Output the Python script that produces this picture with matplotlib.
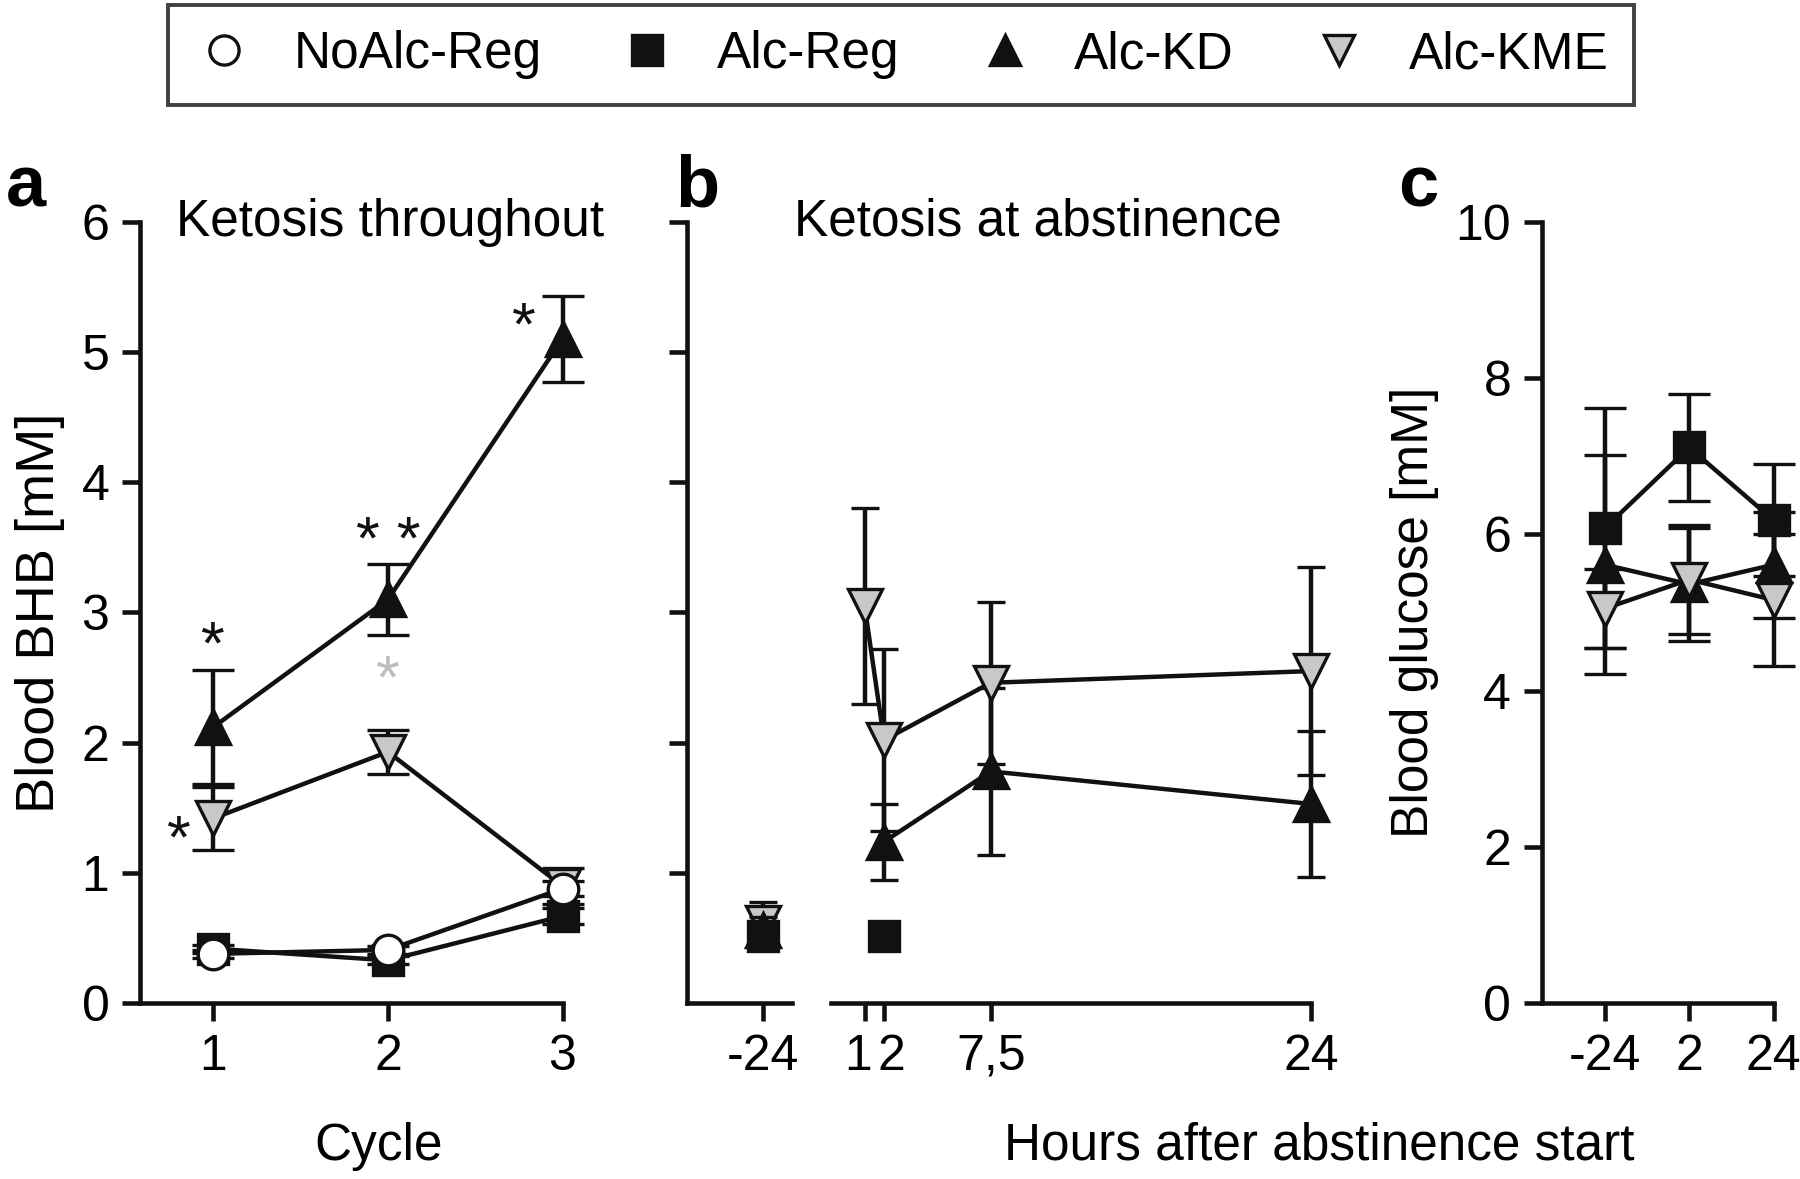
import matplotlib
matplotlib.use("Agg")
import matplotlib.pyplot as plt
import matplotlib.transforms as mtrans
from matplotlib.lines import Line2D

plt.rcParams['font.family'] = ['Liberation Sans', 'DejaVu Sans']
plt.rcParams['axes.unicode_minus'] = False

# ---- panel a: BHB per cycle ----
cycles = [1, 2, 3]
a_noalc = [0.38, 0.41, 0.88]
a_noalc_err = [0.03, 0.03, 0.06]
a_reg = [0.42, 0.33, 0.67]
a_reg_err = [0.03, 0.03, 0.06]
a_kd = [2.12, 3.10, 5.10]
a_kd_err = [0.44, 0.27, 0.33]
a_kme = [1.42, 1.93, 0.90]
a_kme_err = [0.24, 0.17, 0.14]

# ---- panel b: BHB around abstinence ----
b_pre = [-24]
b_reg_pre = [0.52]
b_kd_pre = [0.56]
b_kme_pre = [0.62]
b_pre_err = [0.16]
b_reg_x = [2]
b_reg = [0.52]
b_hours = [1, 2, 7.5, 24]
b_kd_x = [2, 7.5, 24]
b_kd = [1.24, 1.78, 1.53]
b_kd_err = [0.29, 0.64, 0.56]
b_kme = [3.05, 2.02, 2.46, 2.55]
b_kme_err = [0.75, 0.70, 0.62, 0.80]

# ---- panel c: glucose ----
c_labels = ['-24', '2', '24']
c_x = [0, 1, 2]
c_reg = [6.08, 7.11, 6.18]
c_reg_err = [1.54, 0.68, 0.72]
c_kd = [5.61, 5.36, 5.61]
c_kd_err = [1.40, 0.72, 0.68]
c_kme = [5.05, 5.42, 5.16]
c_kme_err = [0.50, 0.70, 0.84]

BLACK = '#111111'
GREY = '#c8c8c8'
LW = 3.2
MEW = 2.4
FS = 37
TFS = 36

styles = {
    'NoAlc-Reg': dict(marker='o', mfc='white', ms=22),
    'Alc-Reg': dict(marker='s', mfc=BLACK, ms=22),
    'Alc-KD': dict(marker='^', mfc=BLACK, ms=25),
    'Alc-KME': dict(marker='v', mfc=GREY, ms=25),
}


def series(ax, x, y, err, name, capsize=15, line=True, z=3):
    st = styles[name]
    ax.errorbar(x, y, yerr=err, color=BLACK, ls='-' if line else 'none',
                lw=LW, elinewidth=LW, capsize=capsize, capthick=LW,
                marker=st['marker'], ms=st['ms'], mfc=st['mfc'], mec=BLACK,
                mew=MEW, zorder=z, clip_on=False)


def style_axis(ax):
    for s in ['top', 'right']:
        ax.spines[s].set_visible(False)
    for s in ['left', 'bottom']:
        ax.spines[s].set_linewidth(3.3)
        ax.spines[s].set_color(BLACK)
    ax.tick_params(width=3.3, length=13, color=BLACK, labelsize=TFS, pad=9)


fig = plt.figure(figsize=(18, 11.79), dpi=100)

# panel a
axa = fig.add_axes([0.0778, 0.149, 0.2347, 0.6631])
series(axa, cycles, a_reg, a_reg_err, 'Alc-Reg', z=3)
series(axa, cycles, a_kd, a_kd_err, 'Alc-KD', z=4)
series(axa, cycles, a_kme, a_kme_err, 'Alc-KME', z=5)
series(axa, cycles, a_noalc, a_noalc_err, 'NoAlc-Reg', z=6)
axa.set_xlim(0.58, 3.0)
axa.set_ylim(0, 6)
axa.set_xticks(cycles)
axa.set_yticks(range(7))
style_axis(axa)
axa.set_xlabel('Cycle', fontsize=FS, labelpad=30, x=0.565)
axa.set_ylabel('Blood BHB [mM]', fontsize=FS + 2, labelpad=12)
axa.text(0.592, 0.982, 'Ketosis throughout', transform=axa.transAxes,
         fontsize=FS, ha='center', va='baseline')
star = dict(fontsize=44, ha='center', va='baseline')
axa.text(1, 2.61, '*', color=BLACK, **star)
axa.text(2, 3.41, '* *', color=BLACK, **star)
axa.text(2.78, 5.06, '*', color=BLACK, **star)
axa.text(2, 2.35, '*', color='#bdbdbd', **star)
axa.text(0.80, 1.12, '*', color=BLACK, **star)

# panel b (broken x axis)
axb1 = fig.add_axes([0.3814, 0.149, 0.0587, 0.6631])
axb2 = fig.add_axes([0.4617, 0.149, 0.2666, 0.6631])
series(axb1, b_pre, b_kme_pre, b_pre_err, 'Alc-KME', capsize=10, line=False, z=3)
series(axb1, b_pre, b_kd_pre, [0.1], 'Alc-KD', capsize=10, line=False, z=4)
series(axb1, b_pre, b_reg_pre, [0.05], 'Alc-Reg', capsize=10, line=False, z=5)
series(axb2, b_reg_x, b_reg, [0.05], 'Alc-Reg', capsize=10, line=False, z=3)
series(axb2, b_kd_x, b_kd, b_kd_err, 'Alc-KD', capsize=10, z=4)
series(axb2, b_hours, b_kme, b_kme_err, 'Alc-KME', capsize=10, z=5)
for ax in (axb1, axb2):
    ax.set_ylim(0, 6)
    style_axis(ax)
axb1.set_xlim(-27.96, -22.52)
axb1.set_xticks(b_pre)
axb1.set_xticklabels(['-24'])
axb1.set_yticks(range(1, 7))
axb1.set_yticklabels([])
axb2.set_xlim(-0.73, 24)
axb2.set_xticks(b_hours)
axb2.set_xticklabels(['1', '2', '7,5', '24'])
axb2.spines['left'].set_visible(False)
axb2.set_yticks([])
# pull the close "1" and "2" labels apart a little
labs = axb2.get_xticklabels()
labs[0].set_transform(labs[0].get_transform() +
                      mtrans.ScaledTranslation(-5 / 72, 0, fig.dpi_scale_trans))
labs[1].set_transform(labs[1].get_transform() +
                      mtrans.ScaledTranslation(5 / 72, 0, fig.dpi_scale_trans))
axb2.set_xlabel('Hours after abstinence start', fontsize=FS, labelpad=30,
                x=1.017)
axb2.text(0.43, 0.982, 'Ketosis at abstinence', transform=axb2.transAxes,
          fontsize=FS, ha='center', va='baseline')

# panel c
axc = fig.add_axes([0.8565, 0.149, 0.1288, 0.6631])
series(axc, c_x, c_reg, c_reg_err, 'Alc-Reg', z=3)
series(axc, c_x, c_kd, c_kd_err, 'Alc-KD', z=4)
series(axc, c_x, c_kme, c_kme_err, 'Alc-KME', z=5)
axc.set_xlim(-0.75, 2)
axc.set_ylim(0, 10)
axc.set_xticks(c_x)
axc.set_xticklabels(c_labels)
axc.set_yticks(range(0, 11, 2))
style_axis(axc)
axc.set_ylabel('Blood glucose [mM]', fontsize=FS, labelpad=12)

# panel letters
fig.text(0.003, 0.825, 'a', fontsize=52, fontweight='bold', va='baseline')
fig.text(0.375, 0.825, 'b', fontsize=52, fontweight='bold', va='baseline')
fig.text(0.777, 0.825, 'c', fontsize=52, fontweight='bold', va='baseline')

# legend
names = ['NoAlc-Reg', 'Alc-Reg', 'Alc-KD', 'Alc-KME']
handles = [Line2D([], [], ls='none', marker=styles[n]['marker'],
                  mfc=styles[n]['mfc'], mec=BLACK, mew=MEW, ms=21)
           for n in names]
leg = fig.legend(handles, names, loc='center', ncol=4,
                 bbox_to_anchor=(0.5006, 0.9534), fontsize=FS,
                 frameon=True, fancybox=False, edgecolor=BLACK,
                 columnspacing=1.45, handletextpad=0.75, borderpad=0.5,
                 handlelength=1.2, borderaxespad=0)
leg.get_frame().set_linewidth(2.8)

fig.savefig('out.png', dpi=100)
